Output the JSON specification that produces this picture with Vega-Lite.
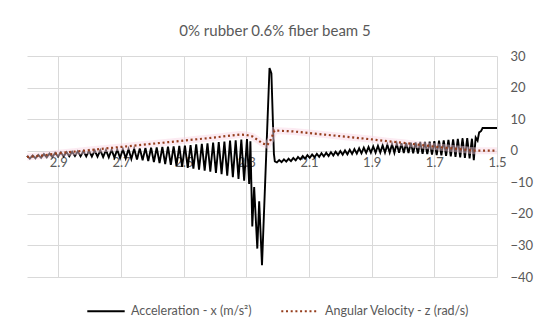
{
  "$schema": "https://vega.github.io/schema/vega-lite/v6.json",
  "width": 470,
  "height": 221,
  "autosize": {"type": "none"},
  "padding": {"left": 27, "top": 56, "right": 53, "bottom": 58},
  "background": "white",
  "config": {"view": {"stroke": null}},
  "title": {"text": "0% rubber 0.6% fiber beam 5", "font": "Lato", "fontSize": 15, "fontWeight": "normal", "color": "#595959", "offset": 11, "dx": 13, "anchor": "middle"},
  "datasets": {
    "acc": [
      {"t":3.000,"v":-1.6},{"t":2.991,"v":-2.5},{"t":2.982,"v":-1.5},{"t":2.973,"v":-2.4},{"t":2.964,"v":-1.35},{"t":2.955,"v":-2.25},{"t":2.946,"v":-1.05},{"t":2.937,"v":-2.1},{"t":2.928,"v":-0.9},{"t":2.919,"v":-2.0},
      {"t":2.910,"v":-0.7},{"t":2.901,"v":-1.85},{"t":2.892,"v":-0.55},{"t":2.883,"v":-1.8},{"t":2.874,"v":-0.45},{"t":2.865,"v":-1.75},{"t":2.856,"v":-0.35},{"t":2.847,"v":-1.7},{"t":2.838,"v":-0.2},{"t":2.829,"v":-1.75},
      {"t":2.820,"v":-0.1},{"t":2.811,"v":-1.8},{"t":2.802,"v":0.0},{"t":2.793,"v":-1.85},{"t":2.784,"v":0.05},{"t":2.775,"v":-1.9},{"t":2.766,"v":0.15},{"t":2.757,"v":-2.0},{"t":2.748,"v":0.2},{"t":2.739,"v":-2.1},
      {"t":2.730,"v":0.3},{"t":2.721,"v":-2.2},{"t":2.712,"v":0.35},{"t":2.703,"v":-2.3},{"t":2.694,"v":0.45},{"t":2.685,"v":-2.4},{"t":2.676,"v":0.5},{"t":2.667,"v":-2.6},{"t":2.658,"v":0.65},{"t":2.649,"v":-2.8},
      {"t":2.640,"v":0.75},{"t":2.631,"v":-3.0},{"t":2.622,"v":0.85},{"t":2.613,"v":-3.3},{"t":2.604,"v":1.0},{"t":2.595,"v":-3.6},{"t":2.586,"v":1.05},{"t":2.577,"v":-3.9},{"t":2.568,"v":1.2},{"t":2.559,"v":-4.2},
      {"t":2.550,"v":1.3},{"t":2.541,"v":-4.5},{"t":2.532,"v":1.4},{"t":2.523,"v":-4.8},{"t":2.514,"v":1.5},{"t":2.505,"v":-5.1},{"t":2.496,"v":1.65},{"t":2.487,"v":-5.4},{"t":2.478,"v":1.8},{"t":2.469,"v":-5.7},
      {"t":2.460,"v":2.0},{"t":2.451,"v":-6.0},{"t":2.442,"v":2.2},{"t":2.433,"v":-6.3},{"t":2.424,"v":2.35},{"t":2.415,"v":-6.6},{"t":2.406,"v":2.55},{"t":2.397,"v":-7.0},{"t":2.388,"v":2.7},{"t":2.379,"v":-7.4},
      {"t":2.370,"v":2.9},{"t":2.361,"v":-7.9},{"t":2.352,"v":3.2},{"t":2.343,"v":-8.4},{"t":2.334,"v":3.3},{"t":2.325,"v":-8.9},{"t":2.316,"v":3.5},{"t":2.307,"v":-9.5},{"t":2.298,"v":3.7},{"t":2.291,"v":-10.5},
      {"t":2.287,"v":3.0},{"t":2.281,"v":-24},{"t":2.275,"v":-11.5},{"t":2.265,"v":-31},{"t":2.259,"v":-16},{"t":2.250,"v":-36.3},{"t":2.226,"v":26.2},{"t":2.220,"v":24.5},{"t":2.212,"v":-1.0},{"t":2.209,"v":-3.4},
      {"t":2.2025,"v":-3.7},{"t":2.1950,"v":-2.95},{"t":2.1875,"v":-3.6},{"t":2.1800,"v":-2.75},{"t":2.1725,"v":-3.45},{"t":2.1650,"v":-2.55},{"t":2.1575,"v":-3.3},{"t":2.1500,"v":-2.3},{"t":2.1425,"v":-3.05},{"t":2.1350,"v":-2.0},
      {"t":2.1275,"v":-2.75},{"t":2.1200,"v":-1.7},{"t":2.1125,"v":-2.55},{"t":2.1050,"v":-1.4},{"t":2.0975,"v":-2.25},{"t":2.0900,"v":-1.2},{"t":2.0825,"v":-2.1},{"t":2.0750,"v":-1.0},{"t":2.0675,"v":-1.95},{"t":2.0600,"v":-0.8},
      {"t":2.0525,"v":-1.8},{"t":2.0450,"v":-0.65},{"t":2.0375,"v":-1.7},{"t":2.0300,"v":-0.45},{"t":2.0225,"v":-1.5},{"t":2.0150,"v":-0.3},{"t":2.0075,"v":-1.35},{"t":2.0000,"v":-0.1},{"t":1.9925,"v":-1.25},{"t":1.9850,"v":0.1},
      {"t":1.9775,"v":-1.15},{"t":1.9700,"v":0.3},{"t":1.9625,"v":-1.0},{"t":1.9550,"v":0.5},{"t":1.9475,"v":-0.9},{"t":1.9400,"v":0.75},{"t":1.9325,"v":-0.8},{"t":1.9250,"v":0.95},{"t":1.9175,"v":-0.7},{"t":1.9100,"v":1.15},
      {"t":1.9025,"v":-0.6},{"t":1.8950,"v":1.35},{"t":1.8875,"v":-0.6},{"t":1.8800,"v":1.55},{"t":1.8725,"v":-0.6},{"t":1.8650,"v":1.7},{"t":1.8575,"v":-0.6},{"t":1.8500,"v":1.9},{"t":1.8425,"v":-0.6},{"t":1.8350,"v":2.05},
      {"t":1.8275,"v":-0.65},{"t":1.8200,"v":2.2},{"t":1.8125,"v":-0.65},{"t":1.8050,"v":2.35},{"t":1.7975,"v":-0.7},{"t":1.7900,"v":2.45},{"t":1.7825,"v":-0.75},{"t":1.7750,"v":2.55},{"t":1.7675,"v":-0.8},{"t":1.7600,"v":2.65},
      {"t":1.7525,"v":-0.9},{"t":1.7450,"v":2.75},{"t":1.7375,"v":-1.0},{"t":1.7300,"v":2.8},{"t":1.7225,"v":-1.1},{"t":1.7150,"v":2.9},{"t":1.7075,"v":-1.25},{"t":1.7000,"v":3.0},{"t":1.6925,"v":-1.35},{"t":1.6850,"v":3.15},
      {"t":1.6775,"v":-1.5},{"t":1.6700,"v":3.3},{"t":1.6625,"v":-1.65},{"t":1.6550,"v":3.45},{"t":1.6475,"v":-1.8},{"t":1.6400,"v":3.6},{"t":1.6325,"v":-1.95},{"t":1.6250,"v":3.75},{"t":1.6175,"v":-2.1},{"t":1.6100,"v":3.9},
      {"t":1.6025,"v":-2.25},{"t":1.5950,"v":4.0},{"t":1.5875,"v":-2.4},{"t":1.5800,"v":3.8},{"t":1.5740,"v":-3.0},{"t":1.5680,"v":4.2},{"t":1.5620,"v":3.2},{"t":1.5570,"v":5.8},{"t":1.5510,"v":6.2},{"t":1.5460,"v":7.2},
      {"t":1.5000,"v":7.2}
    ],
    "ang": [
      {"t":3.000,"v":-2.0},{"t":2.95,"v":-1.5},{"t":2.90,"v":-0.8},{"t":2.85,"v":-0.3},{"t":2.80,"v":0.2},{"t":2.75,"v":0.7},{"t":2.70,"v":1.2},{"t":2.65,"v":1.7},{"t":2.60,"v":2.2},{"t":2.55,"v":2.7},
      {"t":2.50,"v":3.2},{"t":2.45,"v":3.7},{"t":2.40,"v":4.2},{"t":2.35,"v":4.8},{"t":2.32,"v":5.1},{"t":2.30,"v":5.0},{"t":2.28,"v":4.5},{"t":2.265,"v":3.5},{"t":2.248,"v":2.3},{"t":2.233,"v":1.8},
      {"t":2.222,"v":3.5},{"t":2.210,"v":6.4},{"t":2.15,"v":6.1},{"t":2.10,"v":5.6},{"t":2.05,"v":5.1},{"t":2.00,"v":4.6},{"t":1.95,"v":4.1},{"t":1.90,"v":3.6},{"t":1.85,"v":3.0},{"t":1.80,"v":2.5},
      {"t":1.75,"v":1.9},{"t":1.70,"v":1.3},{"t":1.65,"v":0.8},{"t":1.60,"v":0.3},{"t":1.575,"v":0.0},{"t":1.50,"v":0.0}
    ]
  },
  "encoding": {
    "y": {
      "field": "v", "type": "quantitative",
      "scale": {"domain": [-40, 30], "nice": false, "zero": false},
      "axis": {"orient": "right", "values": [-40, -30, -20, -10, 0, 10, 20, 30], "title": null, "domain": false, "ticks": false, "grid": true, "gridColor": "#d9d9d9", "gridWidth": 1, "labelFont": "Lato", "labelFontSize": 13, "labelColor": "#595959", "labelPadding": 13, "zindex": 0}
    }
  },
  "resolve": {"scale": {"x": "shared"}, "axis": {"x": "independent"}},
  "layer": [
    {
      "data": {"name": "acc"},
      "mark": {"type": "line", "strokeWidth": 1.9, "strokeJoin": "miter"},
      "encoding": {
        "x": {
          "field": "t", "type": "quantitative",
          "scale": {"domain": [1.5, 3.0], "reverse": true, "nice": false, "zero": false},
          "axis": {"orient": "top", "values": [2.9, 2.7, 2.5, 2.3, 2.1, 1.9, 1.7, 1.5], "title": null, "domain": false, "ticks": false, "labels": false, "grid": true, "gridColor": "#d9d9d9", "gridWidth": 1, "zindex": 0}
        },
        "color": {
          "datum": "Acceleration - x (m/s²)",
          "scale": {"domain": ["Acceleration - x (m/s²)", "Angular Velocity - z (rad/s)"], "range": ["#000000", "#953d1c"]},
          "legend": {"orient": "none", "legendX": 59, "legendY": 235, "direction": "horizontal", "title": null, "symbolType": "stroke", "symbolSize": 1400, "symbolStrokeWidth": 2, "labelFont": "Lato", "labelFontSize": 12.5, "labelColor": "#595959", "columnPadding": 25, "labelOffset": 5}
        },
        "strokeDash": {
          "datum": "Acceleration - x (m/s²)",
          "scale": {"domain": ["Acceleration - x (m/s²)", "Angular Velocity - z (rad/s)"], "range": [[1, 0], [2, 2.7]]},
          "legend": {"orient": "none", "legendX": 59, "legendY": 235, "direction": "horizontal", "title": null, "symbolType": "stroke", "symbolSize": 1400, "symbolStrokeWidth": 2, "labelFont": "Lato", "labelFontSize": 12.5, "labelColor": "#595959", "columnPadding": 25, "labelOffset": 5}
        }
      }
    },
    {
      "data": {"name": "ang"},
      "mark": {"type": "line", "strokeWidth": 7, "color": "#f9d3e2", "opacity": 0.45},
      "encoding": {
        "x": {"field": "t", "type": "quantitative", "axis": null}
      }
    },
    {
      "data": {"name": "ang"},
      "mark": {"type": "line", "strokeWidth": 2.2},
      "encoding": {
        "x": {
          "field": "t", "type": "quantitative",
          "axis": {"orient": "bottom", "values": [2.9, 2.7, 2.5, 2.3, 2.1, 1.9, 1.7, 1.5], "format": ".1f", "title": null, "domain": false, "ticks": false, "grid": false, "offset": -126, "labelFont": "Lato", "labelFontSize": 13, "labelColor": "#595959", "labelPadding": 5, "labelFlush": false, "labelOverlap": false, "zindex": 0}
        },
        "color": {"datum": "Angular Velocity - z (rad/s)"},
        "strokeDash": {"datum": "Angular Velocity - z (rad/s)"}
      }
    }
  ]
}
